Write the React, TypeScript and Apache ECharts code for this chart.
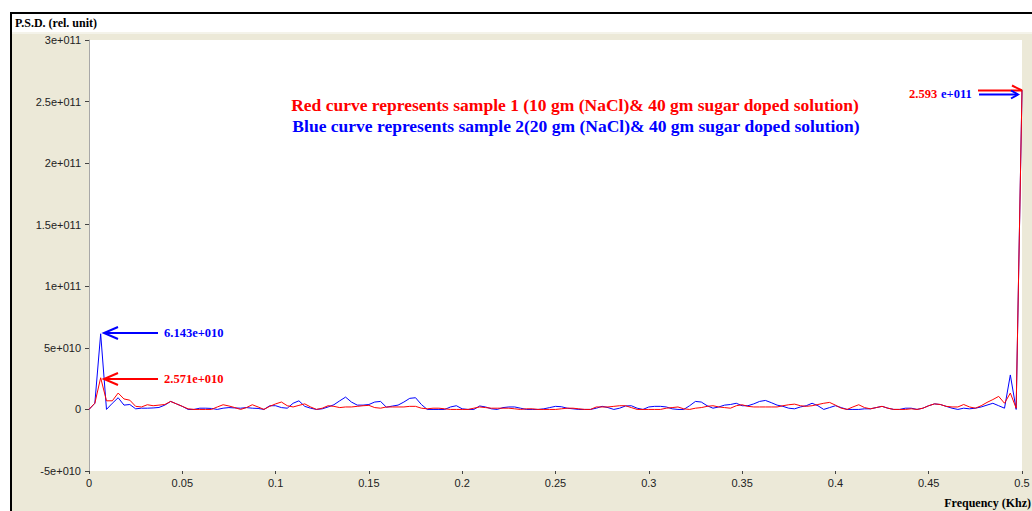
import React, { useEffect, useRef } from "react";
import * as echarts from "echarts";

// Values in units of 1e10 (rel. unit), sampled every 0.003125 kHz from 0 to 0.5 kHz
const SCALE = 1e10;
const FREQ_STEP = 0.003125;

const blueValues = [
  0, 0.5, 6.143, 0, 0.5, 0.95, 0.35, 0.4, 0.05, 0.1,
  0.1, 0.12, 0.16, 0.35, 0.65, 0.45, 0.25, 0, 0, 0.1,
  0.1, 0.08, 0, 0.1, 0.15, 0.12, 0.1, 0.15, 0.1, 0.08,
  0, 0.3, 0.3, 0.15, 0.1, 0.5, 0.7, 0.25, 0.1, 0,
  0.05, 0.2, 0.38, 0.7, 1.0, 0.6, 0.35, 0.35, 0.4, 0.6,
  0.65, 0.18, 0.27, 0.35, 0.6, 0.9, 0.95, 0.4, 0, 0,
  0, 0, 0.2, 0.3, 0.05, 0, 0, 0.28, 0.2, 0.05,
  0, 0.15, 0.2, 0.2, 0.1, 0, 0, 0, 0.05, 0.15,
  0.25, 0.22, 0.1, 0.05, 0, 0, 0, 0.1, 0.25, 0.15,
  0, 0.1, 0.28, 0.3, 0.1, 0, 0.2, 0.25, 0.25, 0.2,
  0.05, 0, 0, 0.3, 0.65, 0.6, 0.3, 0.1, 0.2, 0.35,
  0.4, 0.5, 0.3, 0.3, 0.45, 0.65, 0.73, 0.55, 0.35, 0.25,
  0.1, 0.05, 0.2, 0.3, 0.5, 0.3, 0, 0.15, 0.3, 0.15,
  0, 0, 0, 0.05, 0.05, 0.15, 0.25, 0.1, 0, 0,
  0.1, 0.1, 0, 0.1, 0.3, 0.45, 0.4, 0.25, 0.1, 0,
  0.1, 0.05, 0.1, 0.2, 0.35, 0.5, 0.3, 0.1, 2.8, 0,
  25.93,
];

const redValues = [
  0, 0.5, 2.571, 0.7, 0.7, 1.33, 0.85, 0.75, 0.25, 0.2,
  0.38, 0.3, 0.35, 0.4, 0.65, 0.45, 0.25, 0.05, 0, 0,
  0, 0, 0.2, 0.38, 0.28, 0.15, 0, 0.15, 0.38, 0.2,
  0, 0.25, 0.45, 0.6, 0.3, 0.2, 0.33, 0.45, 0.2, 0,
  0.1, 0.3, 0.25, 0.15, 0.2, 0.2, 0.25, 0.3, 0.33, 0.15,
  0.1, 0.2, 0.2, 0.2, 0.2, 0.25, 0.25, 0.1, 0.05, 0.1,
  0.1, 0.05, 0, 0, 0, 0, 0.1, 0.2, 0.15, 0.1,
  0.1, 0.1, 0.1, 0.05, 0, 0.05, 0.05, 0, 0, 0,
  0, 0.05, 0.1, 0.1, 0.05, 0, 0, 0.2, 0.2, 0.2,
  0.25, 0.3, 0.3, 0.15, 0, 0, 0, 0, 0, 0.1,
  0.15, 0.2, 0.05, 0, 0.1, 0.15, 0.25, 0.3, 0.2, 0.15,
  0.1, 0.3, 0.38, 0.25, 0.2, 0.2, 0.2, 0.2, 0.2, 0.3,
  0.38, 0.43, 0.3, 0.25, 0.3, 0.4, 0.5, 0.57, 0.35, 0.1,
  0, 0.2, 0.38, 0.15, 0.05, 0.15, 0.25, 0.1, 0, 0,
  0, 0.05, 0, 0.1, 0.3, 0.45, 0.4, 0.25, 0.2, 0.2,
  0.4, 0.2, 0.1, 0.3, 0.57, 0.8, 1.06, 0.5, 1.33, 0.1,
  25.93,
];

const legendRed = "Red curve represents sample 1 (10 gm (NaCl)& 40 gm sugar doped solution)";
const legendBlue = "Blue curve represents sample 2(20 gm (NaCl)& 40 gm sugar doped solution)";
const yTitle = "P.S.D. (rel. unit)";
const xTitle = "Frequency (Khz)";
const blueLeftLabel = "6.143e+010";
const redLeftLabel = "2.571e+010";
const rightLabelRed = "2.593";
const rightLabelBlue = "e+011";

function sci(v: number): string {
  if (v === 0) return "0";
  const e = Math.floor(Math.log10(Math.abs(v)) + 1e-9);
  const m = parseFloat((v / Math.pow(10, e)).toFixed(3));
  const sign = e < 0 ? "-" : "+";
  return `${m}e${sign}${String(Math.abs(e)).padStart(3, "0")}`;
}

const SERIF = "'Liberation Serif', 'Times New Roman', serif";
const SANS = "'Liberation Sans', Arial, sans-serif";

export default function App() {
  const ref = useRef<HTMLDivElement>(null);
  useEffect(() => {
    if (!ref.current) return;
    const chart = echarts.init(ref.current, undefined, { renderer: "svg" });
    const toData = (arr: number[]) => arr.map((v, i) => [i * FREQ_STEP, v * SCALE]);
    const BEIGE = "#ECE9D8";
    const boldSerif = (size: number) => `bold ${size}px ${SERIF}`;
    chart.setOption({
      animation: false,
      backgroundColor: "#ffffff",
      grid: { left: 89, right: 10, top: 40, bottom: 40, containLabel: false, outerBoundsMode: "none" },
      xAxis: {
        type: "value",
        min: 0,
        max: 0.5,
        interval: 0.05,
        axisLine: { show: false, onZero: false },
        axisTick: { show: true, length: 3, lineStyle: { color: "#444" } },
        axisLabel: {
          color: "#222",
          fontFamily: SANS,
          fontSize: 11,
          margin: 6,
          formatter: (v: number) => String(parseFloat(v.toFixed(3))),
        },
        splitLine: { show: false },
      },
      yAxis: {
        type: "value",
        min: -5e10,
        max: 3e11,
        interval: 5e10,
        axisLine: { show: true, lineStyle: { color: "#a8a8a8", width: 1 } },
        axisTick: { show: true, length: 4, lineStyle: { color: "#444" } },
        axisLabel: { color: "#222", fontFamily: SANS, fontSize: 11, margin: 8, formatter: sci },
        splitLine: { show: false },
      },
      graphic: [
        { type: "rect", z: -20, silent: true, shape: { x: 11, y: 32, width: 1021, height: 479 }, style: { fill: BEIGE } },
        { type: "line", z: -19, silent: true, shape: { x1: 11, y1: 33, x2: 1032, y2: 33 }, style: { stroke: "#f4f3ea", lineWidth: 2 } },
        { type: "rect", z: -18, silent: true, shape: { x: 89, y: 40, width: 933, height: 431 }, style: { fill: "#ffffff" } },
        { type: "line", z: 10, silent: true, shape: { x1: 10, y1: 13, x2: 1032, y2: 13 }, style: { stroke: "#000", lineWidth: 2 } },
        { type: "line", z: 10, silent: true, shape: { x1: 11, y1: 12, x2: 11, y2: 511 }, style: { stroke: "#000", lineWidth: 2 } },
        { type: "text", z: 10, x: 15, y: 23, style: { text: yTitle, font: boldSerif(12), fill: "#000", verticalAlign: "middle" } },
        { type: "text", z: 10, x: 1031, y: 503, style: { text: xTitle, font: boldSerif(12), fill: "#000", align: "right", verticalAlign: "middle" } },
        { type: "text", z: 10, x: 575, y: 105, style: { text: legendRed, font: boldSerif(17.5), fill: "#ff0000", align: "center", verticalAlign: "middle" } },
        { type: "text", z: 10, x: 576, y: 126, style: { text: legendBlue, font: boldSerif(17.5), fill: "#0000ff", align: "center", verticalAlign: "middle" } },
        // left annotations
        { type: "line", z: 10, silent: true, shape: { x1: 104, y1: 333, x2: 158, y2: 333 }, style: { stroke: "#0000ff", lineWidth: 2 } },
        { type: "polyline", z: 10, silent: true, shape: { points: [[118, 327], [104, 333], [118, 339]] }, style: { stroke: "#0000ff", lineWidth: 2, fill: "none" } },
        { type: "text", z: 10, x: 164, y: 333, style: { text: blueLeftLabel, font: boldSerif(12.5), fill: "#0000ff", verticalAlign: "middle" } },
        { type: "line", z: 10, silent: true, shape: { x1: 104, y1: 379, x2: 158, y2: 379 }, style: { stroke: "#ff0000", lineWidth: 2 } },
        { type: "polyline", z: 10, silent: true, shape: { points: [[118, 373], [104, 379], [118, 385]] }, style: { stroke: "#ff0000", lineWidth: 2, fill: "none" } },
        { type: "text", z: 10, x: 164, y: 379, style: { text: redLeftLabel, font: boldSerif(12.5), fill: "#ff0000", verticalAlign: "middle" } },
        // right annotations
        { type: "text", z: 10, x: 909, y: 94, style: { text: rightLabelRed, font: boldSerif(12.5), fill: "#ff0000", verticalAlign: "middle" } },
        { type: "text", z: 10, x: 941, y: 94, style: { text: rightLabelBlue, font: boldSerif(12.5), fill: "#0000ff", verticalAlign: "middle" } },
        { type: "line", z: 10, silent: true, shape: { x1: 978, y1: 90.5, x2: 1022, y2: 90.5 }, style: { stroke: "#ff0000", lineWidth: 2 } },
        { type: "line", z: 10, silent: true, shape: { x1: 1012, y1: 85.5, x2: 1022, y2: 90.5 }, style: { stroke: "#ff0000", lineWidth: 2 } },
        { type: "line", z: 10, silent: true, shape: { x1: 979, y1: 94.5, x2: 1018, y2: 94.5 }, style: { stroke: "#0000ff", lineWidth: 2 } },
        { type: "polyline", z: 10, silent: true, shape: { points: [[1011, 90.5], [1018, 94.5], [1011, 98.5]] }, style: { stroke: "#0000ff", lineWidth: 2, fill: "none" } },
      ],
      series: [
        {
          name: "Sample 2",
          type: "line",
          data: toData(blueValues),
          showSymbol: false,
          symbol: "none",
          lineStyle: { color: "#0000ff", width: 1 },
          itemStyle: { color: "#0000ff" },
          silent: true,
        },
        {
          name: "Sample 1",
          type: "line",
          data: toData(redValues),
          showSymbol: false,
          symbol: "none",
          lineStyle: { color: "#ff0000", width: 1 },
          itemStyle: { color: "#ff0000" },
          silent: true,
        },
      ],
    });
    return () => chart.dispose();
  }, []);
  return <div ref={ref} style={{ position: "fixed", left: 0, top: 0, width: 1032, height: 511 }} />;
}
